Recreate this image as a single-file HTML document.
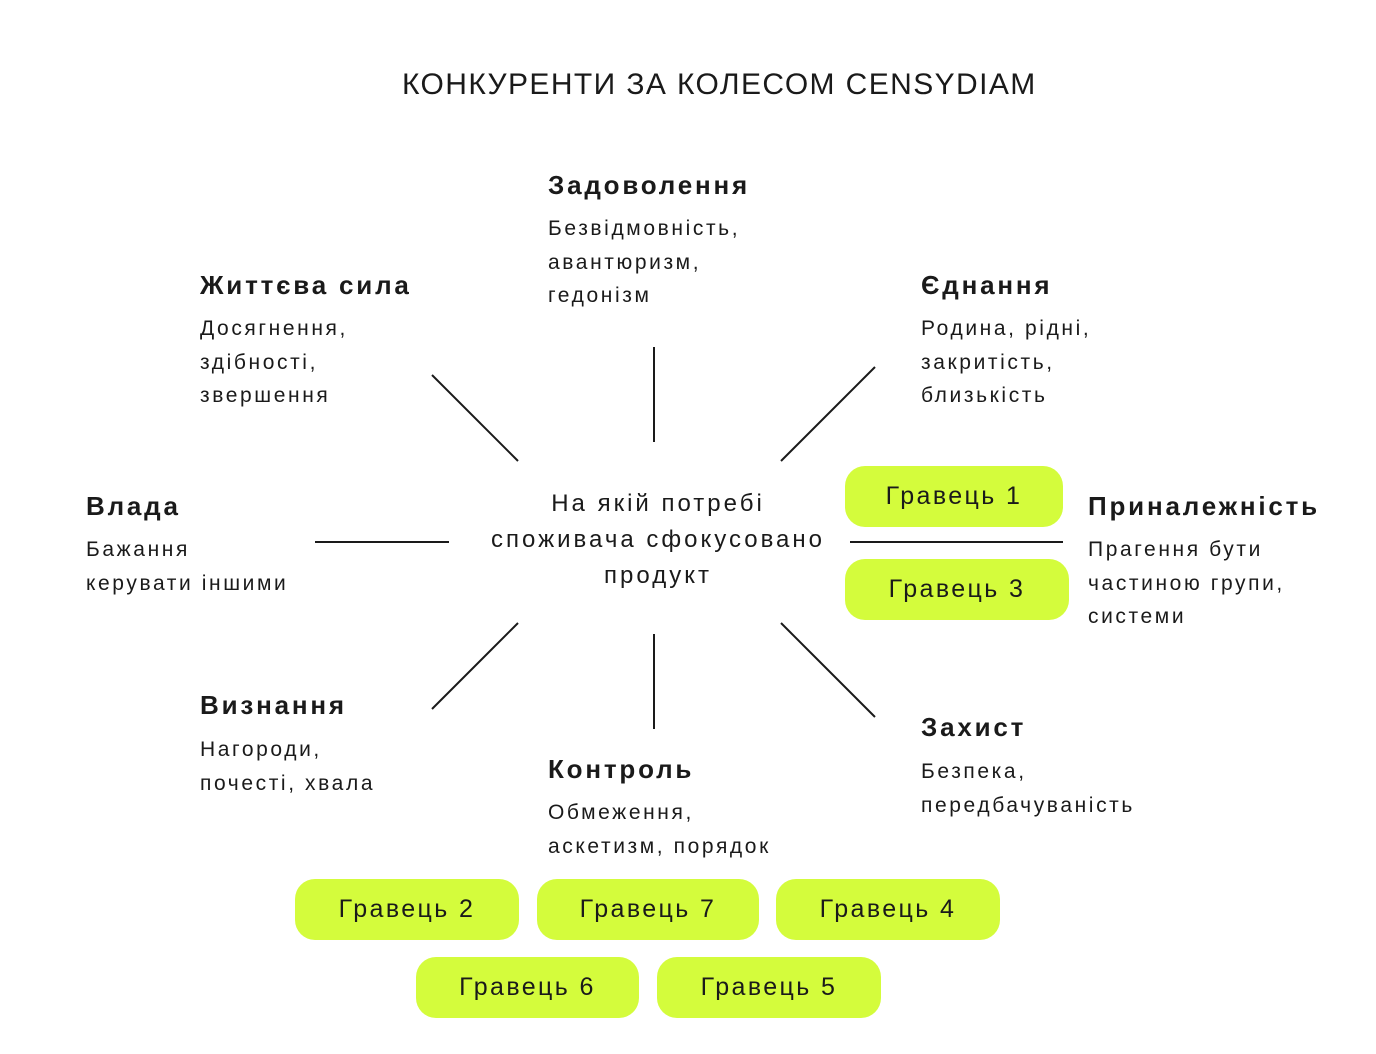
<!DOCTYPE html>
<html><head><meta charset="utf-8"><style>
body{margin:0;width:1376px;height:1054px;background:#fff;position:relative;overflow:hidden;font-family:"Liberation Sans",sans-serif;color:#1a1a1a}
.a{position:absolute;white-space:nowrap}
.t{font-size:30px;letter-spacing:1.4px}
.h{font-size:26px;font-weight:bold;letter-spacing:2.8px}
.b{font-size:21px;line-height:33.5px;letter-spacing:2.6px}
.c{font-size:24px;line-height:36px;text-align:center;letter-spacing:3px}
.p{position:absolute;background:#d4fc3c;border-radius:20px;height:61px;line-height:61px;text-align:center;font-size:25px;letter-spacing:2.4px}
</style></head><body>
<div class="a t" style="left:402px;top:68px">КОНКУРЕНТИ ЗА КОЛЕСОМ CENSYDIAM</div>

<div class="a h" style="left:548px;top:170px">Задоволення</div>
<div class="a b" style="left:548px;top:212px">Безвідмовність,<br>авантюризм,<br>гедонізм</div>

<div class="a h" style="left:200px;top:270px">Життєва сила</div>
<div class="a b" style="left:200px;top:312px">Досягнення,<br>здібності,<br>звершення</div>

<div class="a h" style="left:921px;top:270px">Єднання</div>
<div class="a b" style="left:921px;top:312px">Родина, рідні,<br>закритість,<br>близькість</div>

<div class="a h" style="left:86px;top:491px">Влада</div>
<div class="a b" style="left:86px;top:533px">Бажання<br>керувати іншими</div>

<div class="a h" style="left:1088px;top:491px">Приналежність</div>
<div class="a b" style="left:1088px;top:533px">Прагення бути<br>частиною групи,<br>системи</div>

<div class="a h" style="left:200px;top:690px">Визнання</div>
<div class="a b" style="left:200px;top:733px">Нагороди,<br>почесті, хвала</div>

<div class="a h" style="left:548px;top:754px">Контроль</div>
<div class="a b" style="left:548px;top:796px">Обмеження,<br>аскетизм, порядок</div>

<div class="a h" style="left:921px;top:712px">Захист</div>
<div class="a b" style="left:921px;top:755px">Безпека,<br>передбачуваність</div>

<div class="a c" style="left:458px;top:486px;width:400px">На якій потребі<br>споживача сфокусовано<br>продукт</div>

<svg class="a" style="left:0;top:0" width="1376" height="1054">
<g stroke="#1a1a1a" stroke-width="2">
<line x1="654" y1="347" x2="654" y2="442"/>
<line x1="432" y1="375" x2="518" y2="461"/>
<line x1="875" y1="367" x2="781" y2="461"/>
<line x1="315" y1="542" x2="449" y2="542"/>
<line x1="850" y1="542" x2="1063" y2="542"/>
<line x1="518" y1="623" x2="432" y2="709"/>
<line x1="654" y1="634" x2="654" y2="729"/>
<line x1="781" y1="623" x2="875" y2="717"/>
</g></svg>

<div class="p" style="left:845px;top:466px;width:218px">Гравець 1</div>
<div class="p" style="left:845px;top:559px;width:224px">Гравець 3</div>
<div class="p" style="left:295px;top:879px;width:224px">Гравець 2</div>
<div class="p" style="left:537px;top:879px;width:222px">Гравець 7</div>
<div class="p" style="left:776px;top:879px;width:224px">Гравець 4</div>
<div class="p" style="left:416px;top:957px;width:223px">Гравець 6</div>
<div class="p" style="left:657px;top:957px;width:224px">Гравець 5</div>
</body></html>
